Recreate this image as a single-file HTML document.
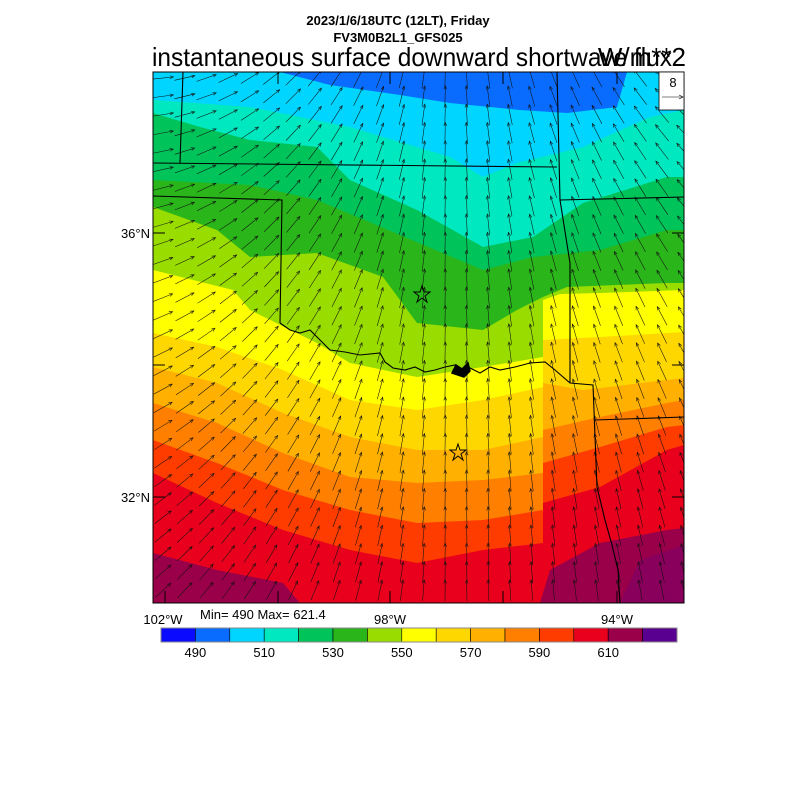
<!DOCTYPE html>
<html><head><meta charset="utf-8"><style>
body{margin:0;background:#fff;}
svg text{font-family:"Liberation Sans",sans-serif;}
</style></head><body>
<svg id="s" width="800" height="800" xmlns="http://www.w3.org/2000/svg">
<rect width="800" height="800" fill="#fff"/>
<text x="398" y="25" font-size="13" font-weight="bold" text-anchor="middle">2023/1/6/18UTC (12LT), Friday</text>
<text x="398" y="42" font-size="13" font-weight="bold" text-anchor="middle">FV3M0B2L1_GFS025</text>
<text x="152" y="66" font-size="26" textLength="520" lengthAdjust="spacingAndGlyphs">instantaneous surface downward shortwave flux</text>
<text x="686" y="66" font-size="26" text-anchor="end">W/m**2</text>
<defs><clipPath id="c"><rect x="153" y="72" width="531" height="531"/></clipPath></defs>
<g id="f" clip-path="url(#c)"></g>
<g id="ar" clip-path="url(#c)" stroke="#111" stroke-width="0.55" fill="none"></g>
<g fill="none" stroke="#000" stroke-width="1.1" clip-path="url(#c)">
<polyline points="153,163 557,167"/>
<polyline points="183,72 180,163"/>
<polyline points="153,196 282,200 280,323"/>
<polyline points="280,323 290,330 300,333 310,330 320,340 330,350 345,352 360,355 380,353 385,362 393,368 405,370 415,367 425,372 435,370 445,367 455,365 460,370 470,368 480,373 490,367 500,370 515,367 530,363 545,362 555,370 570,383 593,385 597,487 605,520 612,545 618,570 620,603"/>
<polyline points="557,72 560,200 570,263 570,383"/>
<polyline points="560,200 684,197"/>
<polyline points="595,420 684,417"/>
<path d="M452,373 l4,-8 l6,4 l6,-6 l2,8 l-6,6 z" fill="#000" stroke-width="1.5"/>
</g>
<g fill="none" stroke="#000" stroke-width="1">
<polygon points="422,286 424,292 430,292 425,296 427,302 422,298 417,302 419,296 414,292 420,292"/>
<polygon points="458,444 460,450 466,450 461,454 463,460 458,456 453,460 455,454 450,450 456,450"/>
</g>
<rect x="153" y="72" width="531" height="531" fill="none" stroke="#000" stroke-width="1"/>
<g stroke="#000" stroke-width="1">
<line x1="153" y1="233" x2="165" y2="233"/><line x1="153" y1="365" x2="165" y2="365"/><line x1="153" y1="497" x2="165" y2="497"/>
<line x1="684" y1="233" x2="672" y2="233"/><line x1="684" y1="365" x2="672" y2="365"/><line x1="684" y1="497" x2="672" y2="497"/>
<line x1="165" y1="603" x2="165" y2="591"/><line x1="278" y1="603" x2="278" y2="591"/><line x1="390" y1="603" x2="390" y2="591"/><line x1="503" y1="603" x2="503" y2="591"/><line x1="617" y1="603" x2="617" y2="591"/>
<line x1="278" y1="72" x2="278" y2="84"/><line x1="390" y1="72" x2="390" y2="84"/><line x1="503" y1="72" x2="503" y2="84"/><line x1="617" y1="72" x2="617" y2="84"/>
</g>
<rect x="659" y="72" width="25" height="38" fill="#fff" stroke="#000" stroke-width="0.8"/>
<text x="673" y="87" font-size="13" text-anchor="middle">8</text>
<line x1="662" y1="97" x2="683" y2="97" stroke="#000" stroke-width="0.6"/>
<polyline points="679,95 683,97 679,99" fill="none" stroke="#000" stroke-width="0.6"/>
<text x="150" y="238" font-size="13" text-anchor="end">36°N</text>
<text x="150" y="502" font-size="13" text-anchor="end">32°N</text>
<text x="163" y="624" font-size="13" text-anchor="middle">102°W</text>
<text x="390" y="624" font-size="13" text-anchor="middle">98°W</text>
<text x="617" y="624" font-size="13" text-anchor="middle">94°W</text>
<text x="200" y="619" font-size="13">Min= 490 Max= 621.4</text>
<g id="cb"></g>
</svg>
<script>
var C=["#0a0aff","#0a6cff","#00d5ff","#00e8c0","#00c45a","#2ab51a","#99dd00","#ffff00","#ffd700","#ffb000","#ff7f00","#ff3c00","#e8001c","#990049","#5a0090"];
var ns="http://www.w3.org/2000/svg";
function el(t,a,p){var e=document.createElementNS(ns,t);for(var k in a)e.setAttribute(k,a[k]);p.appendChild(e);return e;}
var f=document.getElementById("f");
el("rect",{x:153,y:72,width:531,height:531,fill:C[13]},f);
var B={
12:"153,553 217,570 283,583 300,603 540,603 550,570 600,543 667,530 684,528",
11:"153,473 217,503 283,530 350,550 417,563 483,550 543,543 543,503 600,487 667,450 684,445",
10:"153,440 217,463 283,490 350,510 417,523 483,520 543,510 543,463 600,447 667,427 684,425",
9:"153,403 217,423 283,453 350,477 417,483 483,480 543,473 543,430 600,417 667,403 684,400",
8:"153,367 217,383 283,413 350,437 417,450 483,450 543,437 543,383 583,390 667,380 684,378",
7:"153,333 217,347 283,370 350,400 417,410 483,400 543,387 543,340 600,337 684,332",
6:"153,270 233,290 250,310 317,343 350,363 417,377 483,367 543,357 543,300 560,294 600,293 684,290",
5:"153,207 217,230 250,257 317,253 383,277 417,323 483,330 517,310 543,297 567,287 667,283 684,283",
4:"153,180 250,185 317,200 400,235 483,270 533,257 600,250 667,230 684,230",
3:"153,113 200,127 250,140 317,147 350,180 417,210 483,247 533,237 583,203 667,177 684,177",
2:"153,100 250,107 350,127 450,157 483,177 517,163 583,147 650,117 684,110",
1:"280,72 330,85 400,95 450,103 520,110 567,113 617,107 627,72"};
for(var i=12;i>=1;i--){var p=B[i];if(i==1){el("polygon",{points:p,fill:C[1]},f);continue;}
el("polygon",{points:p+" 684,72 153,72",fill:C[i]},f);}
el("polygon",{points:"620,603 640,560 684,545 684,603",fill:"#7a0070",opacity:0.5},f);
var ar=document.getElementById("ar");
for(var y=78;y<603;y+=18.3){for(var x=163;x<684;x+=21.7){
var xn=(x-450)/300,yn=(y-72)/531;
var a=xn<0?-xn*(88-40*yn):-xn*(60-45*yn);
var r=a*Math.PI/180,L=21;
var dx=Math.sin(r)*L,dy=-Math.cos(r)*L;
var x0=x-dx/2,y0=y-dy/2,x1=x+dx/2,y1=y+dy/2;
el("line",{x1:x0.toFixed(1),y1:y0.toFixed(1),x2:x1.toFixed(1),y2:y1.toFixed(1)},ar);
var ux=dx/L,uy=dy/L,h=3.5,w=1.5;
var p="";p+=(x1-ux*h-uy*w).toFixed(1)+","+(y1-uy*h+ux*w).toFixed(1)+" "+x1.toFixed(1)+","+y1.toFixed(1)+" "+(x1-ux*h+uy*w).toFixed(1)+","+(y1-uy*h-ux*w).toFixed(1);
el("polyline",{points:p},ar);}}
var cb=document.getElementById("cb");var w=(677-161)/15;
for(var i=0;i<15;i++){el("rect",{x:161+i*w,y:628,width:w,height:14,fill:C[i],stroke:"#000","stroke-width":0.6},cb);}
el("rect",{x:161,y:628,width:516,height:14,fill:"none",stroke:"#888","stroke-width":1},cb);
var L=["490","510","530","550","570","590","610"];
for(var i=0;i<7;i++){var t=el("text",{x:161+w*(1+2*i),y:657,"font-size":13,"text-anchor":"middle"},cb);t.textContent=L[i];}
</script>
</body></html>
